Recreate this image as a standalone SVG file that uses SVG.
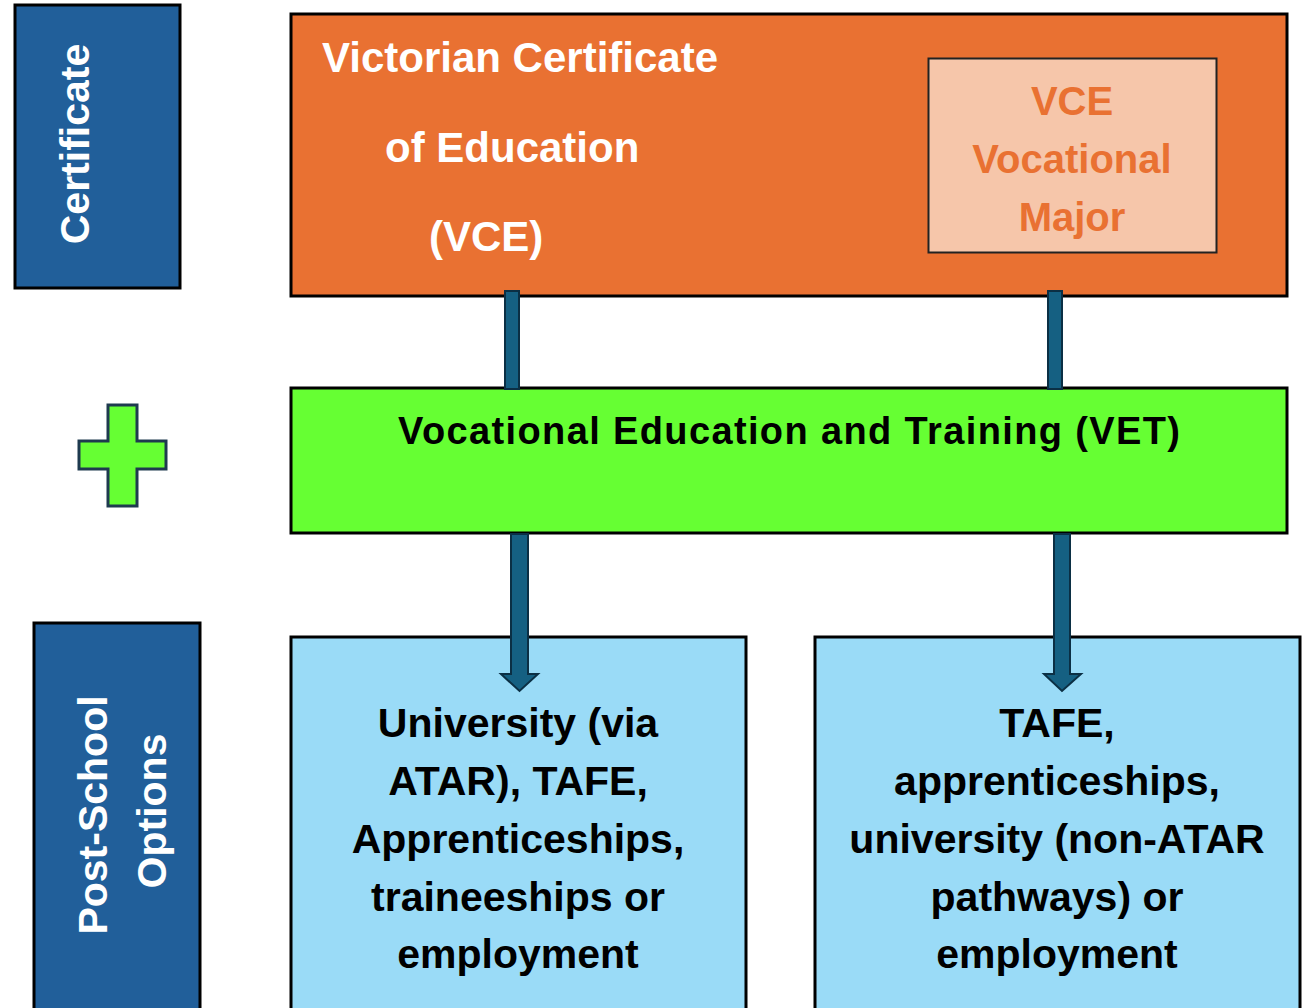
<svg xmlns="http://www.w3.org/2000/svg" width="1306" height="1008" viewBox="0 0 1306 1008">
<style>
.box{stroke:#000;stroke-width:3}
.side{fill:#215F9A}
.lbl{fill:#fff;font-family:"Liberation Sans",Arial,sans-serif;font-weight:bold;font-size:41px;text-anchor:middle}
.t{font-family:"Liberation Sans",Arial,sans-serif;font-weight:bold}
.dark{fill:#000;font-size:41px;text-anchor:middle}
.conn{fill:#156082;stroke:#0B2F44;stroke-width:2}
</style>
<rect width="1306" height="1008" fill="#fff"/>
<g id="certificate">
<rect class="box side" x="15" y="5" width="165" height="283"/>
<text class="lbl" transform="translate(89,144) rotate(-90)" font-size="42">Certificate</text>
</g>
<g id="plus">
<path d="M108,405 H137 V441 H166 V469 H137 V506 H108 V469 H79 V441 H108 Z" fill="#66FF33" stroke="#1E3A4F" stroke-width="3"/>
</g>
<g id="postschool">
<rect class="box side" x="34" y="623" width="166" height="400"/>
<text class="lbl" transform="translate(107,815) rotate(-90)">Post-School</text>
<text class="lbl" transform="translate(166,811) rotate(-90)">Options</text>
</g>
<g id="vce">
<rect class="box" x="291" y="14" width="996" height="282" fill="#E97132"/>
<text class="t" x="322" y="72" fill="#fff" font-size="42">Victorian Certificate</text>
<text class="t" x="385" y="162" fill="#fff" font-size="42">of Education</text>
<text class="t" x="429" y="251" fill="#fff" font-size="42">(VCE)</text>
</g>
<g id="vcevm">
<rect x="928.5" y="58.5" width="288" height="194" fill="#F6C6AA" stroke="#222" stroke-width="2"/>
<text class="t" x="1072" y="115" fill="#E97132" font-size="40" text-anchor="middle">VCE</text>
<text class="t" x="1072" y="173" fill="#E97132" font-size="40" text-anchor="middle">Vocational</text>
<text class="t" x="1072" y="231" fill="#E97132" font-size="40" text-anchor="middle">Major</text>
</g>
<g id="vet">
<rect class="box" x="291" y="388" width="996" height="145" fill="#66FF33"/>
<text class="t" x="398" y="444" font-size="38" textLength="782" lengthAdjust="spacing">Vocational Education and Training (VET)</text>
</g>
<g id="left-options">
<rect class="box" x="291" y="637" width="455" height="390" fill="#9ADBF7"/>
<text class="t dark" x="518" y="737">University (via</text>
<text class="t dark" x="518" y="795">ATAR), TAFE,</text>
<text class="t dark" x="518" y="853">Apprenticeships,</text>
<text class="t dark" x="518" y="911">traineeships or</text>
<text class="t dark" x="518" y="968">employment</text>
</g>
<g id="right-options">
<rect class="box" x="815" y="637" width="485" height="390" fill="#9ADBF7"/>
<text class="t dark" x="1057" y="737">TAFE,</text>
<text class="t dark" x="1057" y="795">apprenticeships,</text>
<text class="t dark" x="1057" y="853">university (non-ATAR</text>
<text class="t dark" x="1057" y="911">pathways) or</text>
<text class="t dark" x="1057" y="968">employment</text>
</g>
<g id="connectors">
<rect class="conn" x="505" y="291" width="14" height="98"/>
<rect class="conn" x="1048" y="291" width="14" height="98"/>
<path class="conn" d="M511,534 H528 V674 H538 L519.5,691 L501,674 H511 Z"/>
<path class="conn" d="M1054,534 H1070 V674 H1081 L1062,691 L1044,674 H1054 Z"/>
</g>
</svg>
